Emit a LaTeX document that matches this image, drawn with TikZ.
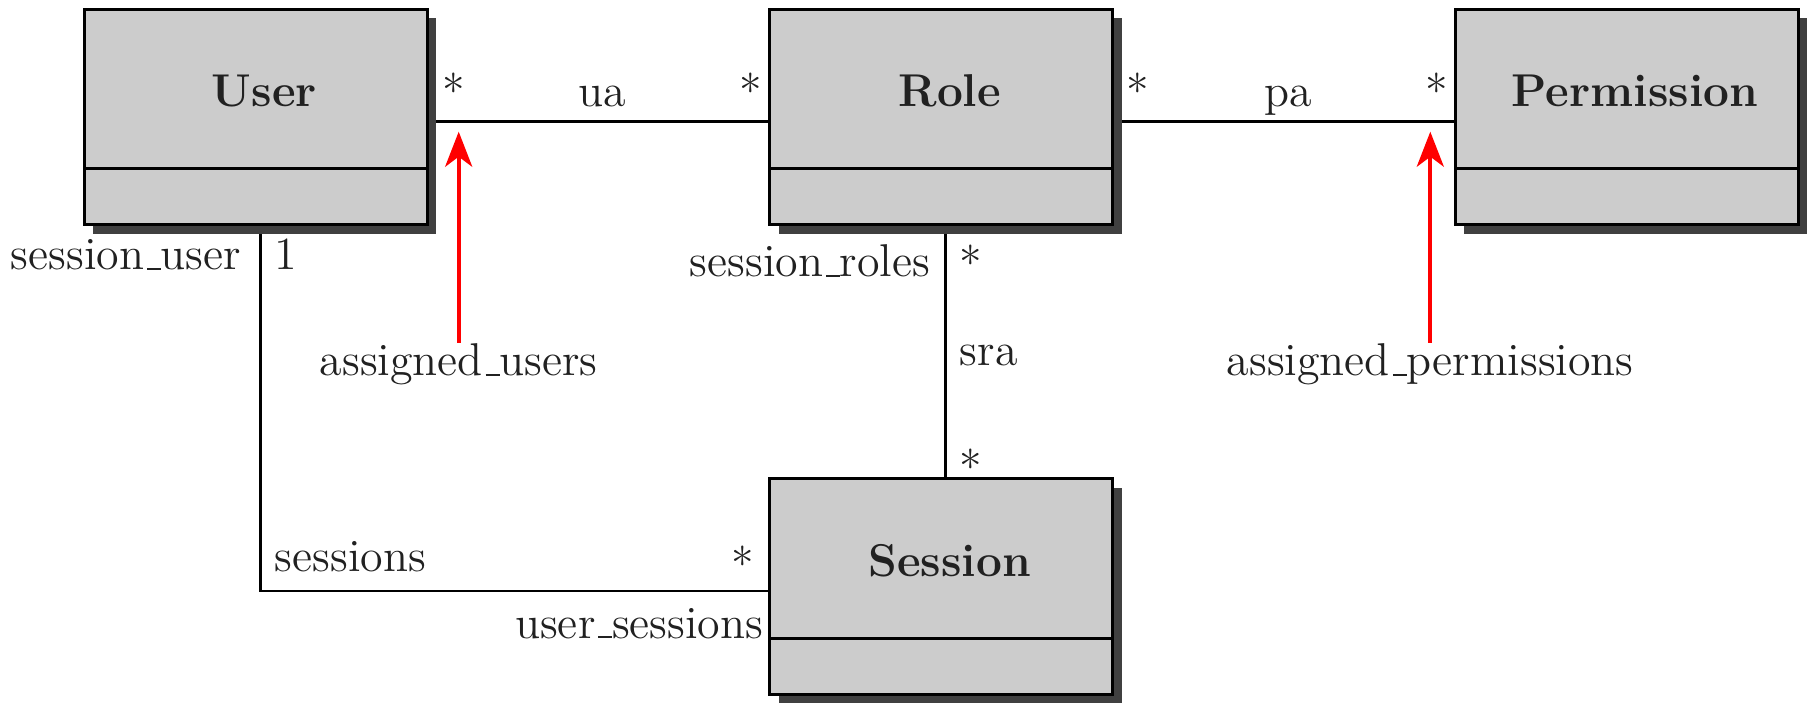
\documentclass[tikz,border=0pt]{standalone}
\usetikzlibrary{arrows.meta,backgrounds}
\newcommand{\us}{\leavevmode\kern.06em\vbox{\hrule width.3em}}
\definecolor{boxfill}{gray}{0.8}
\definecolor{shadowc}{gray}{0.25}
\definecolor{txt}{gray}{0.13}
\begin{document}
\begin{tikzpicture}[x=0.25pt,y=-0.25pt,
  cls/.style={rectangle, minimum width=88pt, minimum height=56.125pt, inner sep=0pt, outer sep=0pt},
  boxline/.style={line width=0.75pt, fill=boxfill},
  sepline/.style={line width=0.75pt},
  shadowfill/.style={fill=shadowc},
  conn/.style={line width=0.65pt},
  lbl/.style={font=\fontsize{11.5}{13.8}\selectfont, text=txt, inner sep=0pt, anchor=base},
  ttl/.style={font=\fontsize{11.5}{13.8}\selectfont\bfseries, text=txt, inner sep=0pt, anchor=base},
  note/.style={red, line width=1pt, -{Stealth[length=8.75pt,width=6.75pt,inset=2.5pt]}}
]
\useasboundingbox (0,0) rectangle (1812,706);

% class nodes (box + shadow area)
\node[cls] (user) at (260.45,121.75) {};
\node[cls] (role) at (945.7,121.75) {};
\node[cls] (perm) at (1631,121.75) {};
\node[cls] (session) at (945.7,590.95) {};

\foreach \n/\t in {user/User, role/Role, perm/Permission, session/Session} {
  \fill[shadowfill] ([shift={(9,9)}]\n.north west) rectangle (\n.south east);
  \draw[boxline] (\n.north west) rectangle ([shift={(-9,-9)}]\n.south east);
  \draw[sepline] ([shift={(0,159.5)}]\n.north west) -- ([shift={(-9,159.5)}]\n.north east);
  \node[ttl] (\n-title) at ([shift={(4,-14.75)}]\n.center) {\t};
}

% connectors
\begin{scope}[on background layer]
\draw[conn] (user.east) -- (role.west);
\draw[conn] (role.east) -- (perm.west);
\draw[conn] (role.south) -- (session.north);
\draw[conn] (user.south) |- (session.west);
\end{scope}

% association labels
\node[lbl] (ua) at (602.5,107) {ua};
\node[lbl] (pa) at (1288.5,107) {pa};
\node[lbl] (m1) at (453.5,107.5) {*};
\node[lbl] (m2) at (751,107.5) {*};
\node[lbl] (m3) at (1138,107.5) {*};
\node[lbl] (m4) at (1436.5,107.5) {*};

\node[lbl, anchor=base east] (suser) at (242,270) {session\us user};
\node[lbl, anchor=base west] (one) at (274,270) {1};
\node[lbl, anchor=base east] (sroles) at (931,277) {session\us roles};
\node[lbl] (m5) at (970.8,279.5) {*};
\node[lbl, anchor=base west] (sra) at (959,366) {sra};
\node[lbl] (m6) at (970.8,484) {*};
\node[lbl, anchor=base west] (sessions) at (274,571) {sessions};
\node[lbl] (m7) at (743,581) {*};
\node[lbl, anchor=base east] (usess) at (764,638) {user\us sessions};

% notes with red arrows
\node[lbl, anchor=north] (au) at (458.7,343) {assigned\us users};
\node[lbl, anchor=north] (ap) at (1430.3,343) {assigned\us permissions};
\coordinate (autip) at (458.7,131.7);
\coordinate (aptip) at (1430.3,131.7);
\draw[note] (au.north) -- (autip);
\draw[note] (ap.north) -- (aptip);
\end{tikzpicture}
\end{document}
